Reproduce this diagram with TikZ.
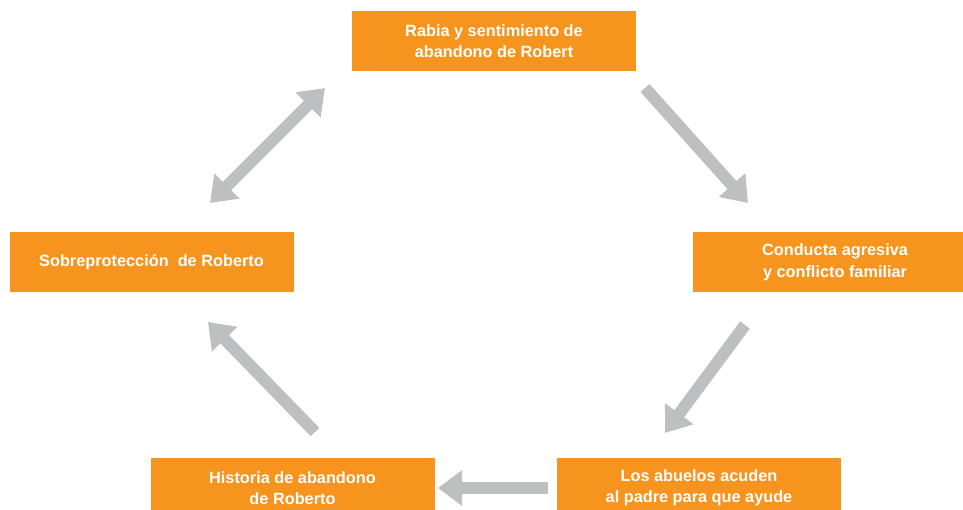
\documentclass[tikz,border=0pt]{standalone}
\usepackage{fontspec}
\setmainfont{Liberation Sans}
\usetikzlibrary{arrows.meta}
\definecolor{boxorange}{HTML}{F7941D}
\definecolor{arrowgrey}{HTML}{BEBFC1}
\tikzset{
    causebox/.style={fill=boxorange,minimum width=284pt,minimum height=60pt,inner sep=0pt,align=center,text=white,font=\bfseries\fontsize{16.3}{21.5}\selectfont},
    flow/.style={draw=arrowgrey,line width=12pt,-{Triangle[width=34pt,length=24pt]}},
    flowboth/.style={draw=arrowgrey,line width=12pt,{Triangle[width=34pt,length=24pt]}-{Triangle[width=34pt,length=24pt]}}
}
\begin{document}
\begin{tikzpicture}[x=1pt,y=-1pt]
        \useasboundingbox (0,0) rectangle (963,510);
        \def \Boxes{ rabia/494/41/{Rabia y sentimiento de\\ abandono de Robert}, conducta/835/262.5/{Conducta agresiva\\ y conflicto familiar}, abuelos/699/488/{Los abuelos acuden\\ al padre para que ayude}, historia/292.5/488/{Historia de abandono\\ de Roberto}, sobre/151.5/262.5/{Sobreprotección\ \ de Roberto}}
        \def \Ends{ a1/210/203, a2/325/88, b1/645/88, b2/748/203, c1/745/325, c2/665/433, d1/548/488, d2/438/488, e1/315/432, e2/208/322}
        \foreach \id / \x / \y / \t in \Boxes{
            \node[causebox] (\id) at (\x, \y) {\t};
        }
        \foreach \id / \x / \y in \Ends{
            \coordinate (\id) at (\x, \y);
        }
        \path[flowboth] (a1) -- (a2);
        \foreach \x / \y in {b1/b2, c1/c2, d1/d2, e1/e2}{
            \path[flow] (\x) -- (\y);
        }
    \end{tikzpicture}
\end{document}
